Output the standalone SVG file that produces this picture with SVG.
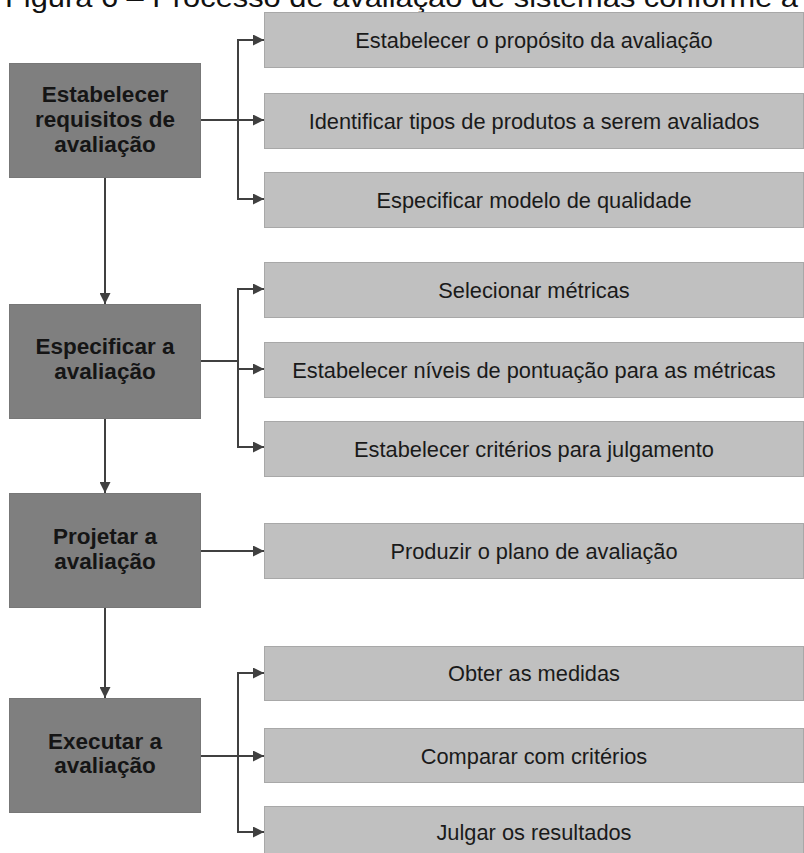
<svg xmlns="http://www.w3.org/2000/svg" width="804" height="853" viewBox="0 0 804 853">
  <style>
    .title { font-family: "Liberation Sans", Arial, sans-serif; font-size: 28px; fill: #111; }
    .step rect { fill: #7f7f7f; stroke: #777; stroke-width: 1; }
    .step text { font-family: "Liberation Sans", Arial, sans-serif; font-size: 22.5px; font-weight: bold; fill: #151515; text-anchor: middle; }
    .task rect { fill: #c0c0c0; stroke: #a8a8a8; stroke-width: 1; }
    .task text { font-family: "Liberation Sans", Arial, sans-serif; font-size: 21.8px; fill: #1a1a1a; text-anchor: middle; }
    .conn { fill: none; stroke: #404040; stroke-width: 2; }
  </style>
  <defs>
    <marker id="arrow" viewBox="0 0 10 10" refX="10" refY="5" markerWidth="5.5" markerHeight="5.5" orient="auto" markerUnits="strokeWidth">
      <path d="M0,0 L10,5 L0,10 z" fill="#404040"/>
    </marker>
  </defs>
  <rect width="804" height="853" fill="#ffffff"/>

  <text class="title" x="5" y="7" textLength="793" lengthAdjust="spacingAndGlyphs">Figura 6 – Processo de avaliação de sistemas conforme a</text>

  <!-- main steps -->
  <g id="step-requisitos" class="step">
    <rect x="9.5" y="63.5" width="191" height="114"/>
    <text x="105" y="102">Estabelecer</text>
    <text x="105" y="127">requisitos de</text>
    <text x="105" y="152">avaliação</text>
  </g>
  <g id="step-especificar" class="step">
    <rect x="9.5" y="304.5" width="191" height="114"/>
    <text x="105" y="354">Especificar a</text>
    <text x="105" y="379">avaliação</text>
  </g>
  <g id="step-projetar" class="step">
    <rect x="9.5" y="493.5" width="191" height="114"/>
    <text x="105" y="544">Projetar a</text>
    <text x="105" y="569">avaliação</text>
  </g>
  <g id="step-executar" class="step">
    <rect x="9.5" y="698.5" width="191" height="114"/>
    <text x="105" y="749">Executar a</text>
    <text x="105" y="773">avaliação</text>
  </g>

  <!-- activities -->
  <g id="task-proposito" class="task">
    <rect x="264.5" y="12.5" width="539" height="55"/>
    <text x="534" y="48">Estabelecer o propósito da avaliação</text>
  </g>
  <g id="task-produtos" class="task">
    <rect x="264.5" y="93.5" width="539" height="55"/>
    <text x="534" y="129">Identificar tipos de produtos a serem avaliados</text>
  </g>
  <g id="task-modelo" class="task">
    <rect x="264.5" y="172.5" width="539" height="55"/>
    <text x="534" y="208">Especificar modelo de qualidade</text>
  </g>
  <g id="task-metricas" class="task">
    <rect x="264.5" y="262.5" width="539" height="55"/>
    <text x="534" y="298">Selecionar métricas</text>
  </g>
  <g id="task-niveis" class="task">
    <rect x="264.5" y="342.5" width="539" height="55"/>
    <text x="534" y="378">Estabelecer níveis de pontuação para as métricas</text>
  </g>
  <g id="task-criterios" class="task">
    <rect x="264.5" y="421.5" width="539" height="55"/>
    <text x="534" y="457">Estabelecer critérios para julgamento</text>
  </g>
  <g id="task-plano" class="task">
    <rect x="264.5" y="523.5" width="539" height="55"/>
    <text x="534" y="559">Produzir o plano de avaliação</text>
  </g>
  <g id="task-medidas" class="task">
    <rect x="264.5" y="646.5" width="539" height="54"/>
    <text x="534" y="681">Obter as medidas</text>
  </g>
  <g id="task-comparar" class="task">
    <rect x="264.5" y="728.5" width="539" height="54"/>
    <text x="534" y="764">Comparar com critérios</text>
  </g>
  <g id="task-julgar" class="task">
    <rect x="264.5" y="806.5" width="539" height="50"/>
    <text x="534" y="840">Julgar os resultados</text>
  </g>

  <!-- connectors -->
  <g id="connectors" class="conn">
    <!-- step flow -->
    <path d="M105,178 V304" marker-end="url(#arrow)"/>
    <path d="M105,419 V493" marker-end="url(#arrow)"/>
    <path d="M105,608 V698" marker-end="url(#arrow)"/>

    <!-- group 1 -->
    <path d="M201,120 H264" marker-end="url(#arrow)"/>
    <path d="M238,199 V40"/>
    <path d="M237,40 H264" marker-end="url(#arrow)"/>
    <path d="M237,199 H264" marker-end="url(#arrow)"/>

    <!-- group 2 -->
    <path d="M201,361 H238"/>
    <path d="M238,289 V447"/>
    <path d="M237,289 H264" marker-end="url(#arrow)"/>
    <path d="M237,369 H264" marker-end="url(#arrow)"/>
    <path d="M237,447 H264" marker-end="url(#arrow)"/>

    <!-- group 3 -->
    <path d="M201,551 H264" marker-end="url(#arrow)"/>

    <!-- group 4 -->
    <path d="M201,756 H264" marker-end="url(#arrow)"/>
    <path d="M238,673 V832"/>
    <path d="M237,673 H264" marker-end="url(#arrow)"/>
    <path d="M237,832 H264" marker-end="url(#arrow)"/>
  </g>
</svg>
